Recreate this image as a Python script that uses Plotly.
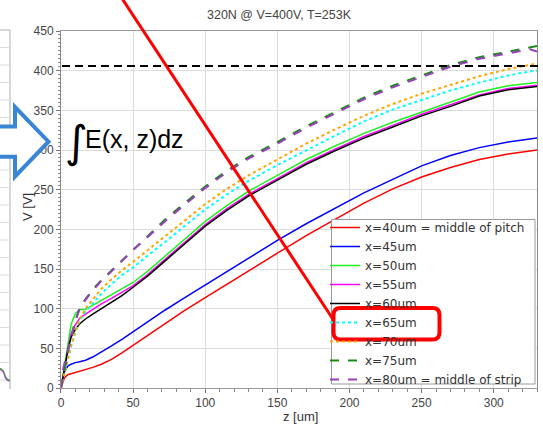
import plotly.graph_objects as go

# ---------------- data ----------------
z = [0, 1, 2, 3, 5, 7, 10, 13, 17, 22, 28, 35, 42, 50, 60, 72, 85, 100, 115,
     130, 150, 170, 190, 210, 230, 250, 270, 290, 310, 325, 330]

v_x40 = [0, 6, 11, 14, 17, 18, 19.5, 21, 23, 26, 30, 36, 44, 54, 66, 81, 97, 114, 131,
         148, 170, 192, 213, 233, 251, 266, 278, 288, 295, 299, 300]
v_x45 = [0, 10, 18, 23, 28, 30, 32, 33, 35, 39, 45, 53, 61, 71, 83, 98, 113, 130, 147,
         164, 186, 207, 227, 246, 263, 280, 293, 303, 310, 314, 315]
v_x50 = [0, 12, 25, 38, 62, 80, 94, 99, 99, 104, 111, 118, 124, 133, 147, 166, 187, 210, 230,
         248, 268, 288, 305, 321, 335, 348, 361, 373, 381, 384, 385]
v_x55 = [0, 10, 22, 33, 52, 68, 80, 88, 93, 99, 106, 113, 120, 129, 143, 162, 183, 206, 226,
         244, 264, 284, 301, 317, 331, 345, 357, 369.5, 377.5, 380.5, 381.5]
v_x60 = [0, 10, 20, 30, 50, 64, 74, 81, 87, 93, 100, 108, 116, 127, 141, 160, 181, 204, 224,
         242, 262, 282, 299, 315, 329, 343, 355, 368, 376, 379, 380]
v_x65 = [0, 8, 15, 23, 38, 52, 70, 85, 96, 107, 119, 131, 142, 152, 167, 184, 203, 225, 244,
         261, 281, 300, 318, 336, 351, 363, 375, 385, 394, 399, 400]
v_x70 = [0, 8, 16, 24, 40, 54, 72, 87, 100, 112, 125, 137, 148, 159, 174, 191, 210, 232, 251,
         268, 288, 308, 326, 343, 358, 371, 382, 393, 402, 407, 409]
v_x75 = [0, 8, 17, 27, 47, 64, 85, 101, 112, 124, 136, 148, 161, 175, 192, 212, 232, 254, 274,
         291, 310, 330, 348, 366, 381, 394, 407, 417, 424, 429, 431]
v_x80 = [0, 20, 28, 35, 49, 65, 85, 100, 111, 123, 135, 147, 160, 174, 190, 210, 230, 252, 272,
         289, 308, 328, 346, 364, 379, 392, 405, 415, 422, 427, 424]

names = ["x=40um = middle of pitch", "x=45um", "x=50um", "x=55um", "x=60um",
         "x=65um", "x=70um", "x=75um", "x=80um = middle of strip"]
series = [v_x40, v_x45, v_x50, v_x55, v_x60, v_x65, v_x70, v_x75, v_x80]
colors = ["#ff0000", "#0000ff", "#22ee22", "#ff00ff", "#000000",
          "#00ffff", "#ffa500", "#1a8a1a", "#9c3fbf"]
dashes = ["solid", "solid", "solid", "solid", "solid", "dot", "dot", "dash", "dash"]
widths = [1.5, 1.5, 1.5, 1.5, 1.5, 2, 2, 2, 2]

v_limit = 406
title_text = "320N @ V=400V, T=253K"
x_title = "z [um]"
y_title = "V [V]"

# ---------------- geometry helpers ----------------
L, R, T, B = 61, 537, 31, 388
W, H = R - L, B - T


def PX(p):
    return (p - L) / W


def PY(p):
    return (B - p) / H


fig = go.Figure()
for name, v, c, d, w in zip(names, series, colors, dashes, widths):
    fig.add_trace(go.Scatter(x=z, y=v, mode="lines", name=name,
                             line=dict(color=c, dash=d, width=w)))

shapes = []
# partial table at the left edge
shapes.append(dict(type="line", xref="paper", yref="paper", x0=PX(10), x1=PX(10),
                   y0=PY(30), y1=PY(389), line=dict(color="#b0b0b0", width=1), layer="above"))
shapes.append(dict(type="line", xref="paper", yref="paper", x0=PX(-2), x1=PX(10),
                   y0=PY(30), y1=PY(30), line=dict(color="#b0b0b0", width=1), layer="above"))
yy = 47.5
while yy < 386:
    shapes.append(dict(type="line", xref="paper", yref="paper", x0=PX(-2), x1=PX(10),
                       y0=PY(yy), y1=PY(yy), line=dict(color="#dddddd", width=1), layer="above"))
    yy += 17.5
# tiny curves of the left plot
for col, dy in (("#22cc22", 0), ("#9c3fbf", 1)):
    p = "M{},{} Q{},{} {},{} Q{},{} {},{}".format(
        PX(-2), PY(368 + dy), PX(3), PY(368 + dy), PX(4.5), PY(374 + dy),
        PX(6), PY(380 + dy), PX(10), PY(380 + dy))
    shapes.append(dict(type="path", xref="paper", yref="paper", path=p,
                       line=dict(color=col, width=1.2), layer="above"))

# blue outlined arrow
pts = [(-8, 126.5), (15, 126.5), (15, 107), (48.5, 141.7), (15, 176.5), (15, 156.8), (-8, 156.8)]
p = "M" + " L".join("{},{}".format(PX(a), PY(b)) for a, b in pts) + " Z"
shapes.append(dict(type="path", xref="paper", yref="paper", path=p,
                   fillcolor="white", line=dict(color="#3a86d6", width=4), layer="above"))

# dashed limit line
shapes.append(dict(type="line", xref="paper", yref="y", x0=PX(62), x1=PX(545),
                   y0=v_limit, y1=v_limit, line=dict(color="black", width=2, dash="8px,5px"),
                   layer="above"))

# legend background box
shapes.append(dict(type="rect", xref="paper", yref="paper", x0=PX(331.5), x1=PX(535),
                   y0=PY(384), y1=PY(219.5), fillcolor="white",
                   line=dict(color="#999999", width=1), layer="above"))

# red pointer line
shapes.append(dict(type="line", xref="paper", yref="paper", x0=PX(121.7), y0=PY(-2),
                   x1=PX(333.5), y1=PY(320), line=dict(color="#ff0000", width=3), layer="above"))

# red rounded rectangle
x0, x1, y0, y1, r = 333.5, 439.5, 308, 339.5, 7
p = ("M{},{} L{},{} Q{},{} {},{} L{},{} Q{},{} {},{} L{},{} Q{},{} {},{} L{},{} Q{},{} {},{} Z"
     .format(PX(x0 + r), PY(y0), PX(x1 - r), PY(y0), PX(x1), PY(y0), PX(x1), PY(y0 + r),
             PX(x1), PY(y1 - r), PX(x1), PY(y1), PX(x1 - r), PY(y1),
             PX(x0 + r), PY(y1), PX(x0), PY(y1), PX(x0), PY(y1 - r),
             PX(x0), PY(y0 + r), PX(x0), PY(y0), PX(x0 + r), PY(y0)))
shapes.append(dict(type="path", xref="paper", yref="paper", path=p,
                   line=dict(color="#ff0000", width=4), layer="above"))

title_font = dict(family="Liberation Sans, Arial", size=13, color="#333333")
annotations = [
    dict(text=title_text, xref="paper", yref="paper", x=PX(205), y=PY(15),
         xanchor="left", yanchor="middle", showarrow=False,
         font=dict(family="Liberation Sans, Arial", size=12.5, color="#444444")),
    dict(text="∫", xref="paper", yref="paper", x=PX(76), y=PY(141),
         xanchor="center", yanchor="middle", showarrow=False,
         font=dict(family="DejaVu Sans", size=44, color="black")),
    dict(text="E(x, z)dz", xref="paper", yref="paper", x=PX(83), y=PY(139),
         xanchor="left", yanchor="middle", showarrow=False,
         font=dict(family="Liberation Sans, Arial", size=25, color="black")),
    dict(text=y_title, xref="paper", yref="paper", x=PX(27), y=PY(207),
         xanchor="center", yanchor="middle", textangle=-90, showarrow=False,
         font=title_font),
    dict(text=x_title, xref="paper", yref="paper", x=PX(300), y=PY(416.5),
         xanchor="center", yanchor="middle", showarrow=False, font=title_font),
]

axis_font = dict(family="Liberation Sans, Arial", size=12, color="#444444")
fig.update_layout(
    width=543, height=424,
    margin=dict(l=L, r=543 - R, t=T, b=424 - B, autoexpand=False),
    paper_bgcolor="white", plot_bgcolor="white",
    showlegend=True,
    legend=dict(x=PX(325), y=PY(213), xanchor="left", yanchor="top",
                bgcolor="rgba(0,0,0,0)", borderwidth=0, tracegroupgap=0,
                font=dict(family="DejaVu Sans", size=12, color="#333333")),
    shapes=shapes, annotations=annotations,
    xaxis=dict(range=[0.01, 330], tick0=0, dtick=50, showgrid=True, gridcolor="#dcdcdc",
               zeroline=False, showline=True, linecolor="#999999", mirror=True,
               ticks="outside", ticklen=4, tickcolor="#777777", tickfont=axis_font,
               minor=dict(dtick=10, ticks="outside", ticklen=3, tickcolor="#888888", showgrid=False)),
    yaxis=dict(range=[0, 450], tick0=0, dtick=50, showgrid=True, gridcolor="#dcdcdc",
               zeroline=False, showline=True, linecolor="#888888", mirror=True,
               ticks="outside", ticklen=4, tickcolor="#777777", tickfont=axis_font,
               minor=dict(dtick=5, ticks="outside", ticklen=2, tickcolor="#888888", showgrid=False)),
)

fig.write_html("out.html")
